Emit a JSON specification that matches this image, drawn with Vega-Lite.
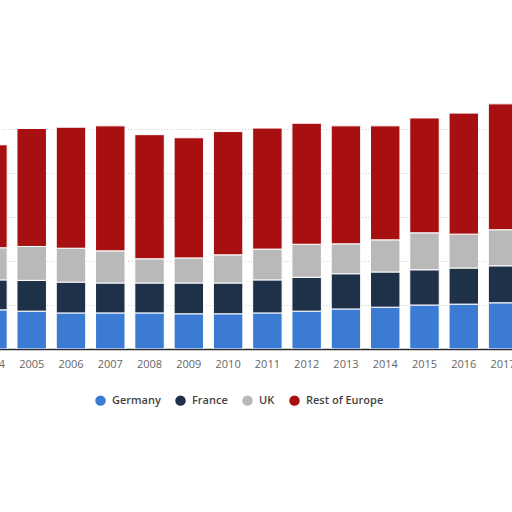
{
  "$schema": "https://vega.github.io/schema/vega-lite/v6.json",
  "description": "Stacked bars by region, 2004-2017",
  "autosize": "none",
  "padding": {"left": 0, "top": 0, "right": 0, "bottom": 163},
  "width": 512,
  "height": 349,
  "background": "white",
  "data": {
    "values": [
      {"year": "2004", "region": "Germany", "value": 8.9}, {"year": "2004", "region": "France", "value": 6.8}, {"year": "2004", "region": "UK", "value": 7.3}, {"year": "2004", "region": "Rest of Europe", "value": 23.4},
      {"year": "2005", "region": "Germany", "value": 8.6}, {"year": "2005", "region": "France", "value": 7.0}, {"year": "2005", "region": "UK", "value": 7.7}, {"year": "2005", "region": "Rest of Europe", "value": 26.8},
      {"year": "2006", "region": "Germany", "value": 8.2}, {"year": "2006", "region": "France", "value": 7.0}, {"year": "2006", "region": "UK", "value": 7.7}, {"year": "2006", "region": "Rest of Europe", "value": 27.5},
      {"year": "2007", "region": "Germany", "value": 8.2}, {"year": "2007", "region": "France", "value": 6.8}, {"year": "2007", "region": "UK", "value": 7.3}, {"year": "2007", "region": "Rest of Europe", "value": 28.4},
      {"year": "2008", "region": "Germany", "value": 8.2}, {"year": "2008", "region": "France", "value": 6.8}, {"year": "2008", "region": "UK", "value": 5.5}, {"year": "2008", "region": "Rest of Europe", "value": 28.2},
      {"year": "2009", "region": "Germany", "value": 8.0}, {"year": "2009", "region": "France", "value": 7.0}, {"year": "2009", "region": "UK", "value": 5.7}, {"year": "2009", "region": "Rest of Europe", "value": 27.3},
      {"year": "2010", "region": "Germany", "value": 8.0}, {"year": "2010", "region": "France", "value": 7.0}, {"year": "2010", "region": "UK", "value": 6.4}, {"year": "2010", "region": "Rest of Europe", "value": 28.0},
      {"year": "2011", "region": "Germany", "value": 8.2}, {"year": "2011", "region": "France", "value": 7.5}, {"year": "2011", "region": "UK", "value": 7.0}, {"year": "2011", "region": "Rest of Europe", "value": 27.5},
      {"year": "2012", "region": "Germany", "value": 8.6}, {"year": "2012", "region": "France", "value": 7.7}, {"year": "2012", "region": "UK", "value": 7.5}, {"year": "2012", "region": "Rest of Europe", "value": 27.5},
      {"year": "2013", "region": "Germany", "value": 9.1}, {"year": "2013", "region": "France", "value": 8.0}, {"year": "2013", "region": "UK", "value": 6.8}, {"year": "2013", "region": "Rest of Europe", "value": 26.8},
      {"year": "2014", "region": "Germany", "value": 9.5}, {"year": "2014", "region": "France", "value": 8.0}, {"year": "2014", "region": "UK", "value": 7.3}, {"year": "2014", "region": "Rest of Europe", "value": 25.9},
      {"year": "2015", "region": "Germany", "value": 10.0}, {"year": "2015", "region": "France", "value": 8.0}, {"year": "2015", "region": "UK", "value": 8.4}, {"year": "2015", "region": "Rest of Europe", "value": 26.1},
      {"year": "2016", "region": "Germany", "value": 10.2}, {"year": "2016", "region": "France", "value": 8.2}, {"year": "2016", "region": "UK", "value": 7.7}, {"year": "2016", "region": "Rest of Europe", "value": 27.5},
      {"year": "2017", "region": "Germany", "value": 10.5}, {"year": "2017", "region": "France", "value": 8.4}, {"year": "2017", "region": "UK", "value": 8.2}, {"year": "2017", "region": "Rest of Europe", "value": 28.6}
    ]
  },
  "transform": [
    {"calculate": "indexof(['Germany', 'France', 'UK', 'Rest of Europe'], datum.region)", "as": "stackOrder"}
  ],
  "mark": {"type": "bar", "clip": true, "stroke": "white", "strokeWidth": 1},
  "encoding": {
    "x": {
      "field": "year",
      "type": "ordinal",
      "scale": {"range": [-22.3, 517.8], "paddingInner": 0.25, "paddingOuter": 0},
      "axis": {
        "title": null,
        "labelAngle": 0,
        "labelFont": "Open Sans",
        "labelFontSize": 11,
        "labelColor": "#666666",
        "labelPadding": 9,
        "ticks": false,
        "domainColor": "#2b2b2b",
        "domainWidth": 1.5,
        "grid": false
      }
    },
    "y": {
      "field": "value",
      "type": "quantitative",
      "stack": "zero",
      "scale": {"domain": [0, 79.3], "nice": false},
      "axis": {
        "title": null,
        "labels": false,
        "ticks": false,
        "domain": false,
        "values": [10, 20, 30, 40, 50],
        "grid": true,
        "gridColor": "#c8c8c8",
        "gridDash": [1, 2]
      }
    },
    "color": {
      "field": "region",
      "type": "nominal",
      "sort": ["Germany", "France", "UK", "Rest of Europe"],
      "scale": {
        "domain": ["Germany", "France", "UK", "Rest of Europe"],
        "range": ["#3b7bd3", "#1f3049", "#b9b9b9", "#a80f10"]
      },
      "legend": {
        "title": null,
        "orient": "none",
        "direction": "horizontal",
        "legendX": 95,
        "legendY": 395,
        "symbolType": "circle",
        "symbolSize": 110,
        "symbolStrokeWidth": 0,
        "labelFont": "Open Sans",
        "labelFontSize": 11,
        "labelFontWeight": 600,
        "labelColor": "#444444",
        "labelOffset": 6,
        "columnPadding": 14
      }
    },
    "order": {"field": "stackOrder", "type": "quantitative"}
  },
  "config": {"view": {"stroke": null}}
}
